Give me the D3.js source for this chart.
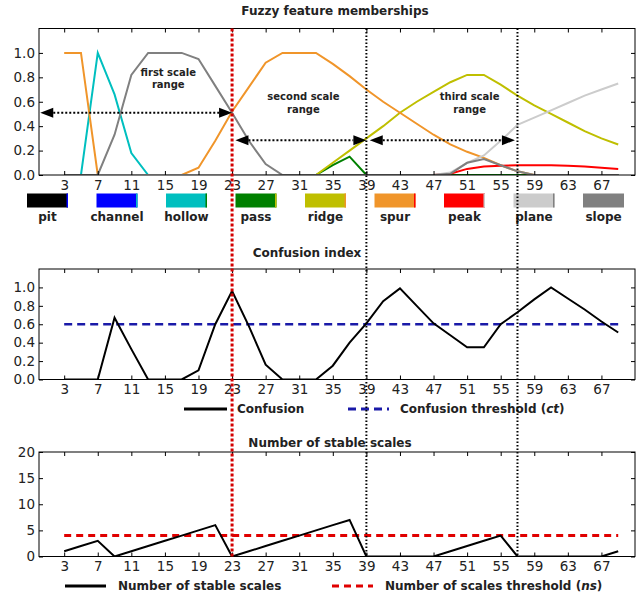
<!DOCTYPE html>
<html lang="en">
<head>
<meta charset="UTF-8">
<title>Fuzzy feature memberships</title>
<script src="https://d3js.org/d3.v7.min.js"></script>
<style>
  body { margin: 0; background: #fff; }
  svg { display: block; }
  text { font-family: "DejaVu Sans", sans-serif; fill: #222; }
</style>
</head>
<body>
<div id="chart"></div>
<script>
// scale index (odd window sizes)
const scales = [3,5,7,9,11,13,15,17,19,21,23,25,27,29,31,33,35,37,39,41,43,45,47,49,51,53,55,57,59,61,63,65,67,69];
const xTicks = [3,7,11,15,19,23,27,31,35,39,43,47,51,55,59,63,67];

// fuzzy memberships per feature
const pit     = [0,0,0,0,0,0,0,0,0,0,0,0,0,0,0,0,0,0,0,0,0,0,0,0,0,0,0,0,0,0,0,0,0,0];
const channel = [0,0,0,0,0,0,0,0,0,0,0,0,0,0,0,0,0,0,0,0,0,0,0,0,0,0,0,0,0,0,0,0,0,0];
const hollow  = [0,0,1.0,0.66,0.18,0,0,0,0,0,0,0,0,0,0,0,0,0,0,0,0,0,0,0,0,0,0,0,0,0,0,0,0,0];
const pass    = [0,0,0,0,0,0,0,0,0,0,0,0,0,0,0,0,0.08,0.15,0,0,0,0,0,0,0,0,0,0,0,0,0,0,0,0];
const ridge   = [0,0,0,0,0,0,0,0,0,0,0,0,0,0,0,0,0.10,0.20,0.30,0.40,0.51,0.60,0.68,0.76,0.82,0.82,0.74,0.65,0.57,0.50,0.43,0.36,0.30,0.25];
const spur    = [1,1,0,0,0,0,0,0,0.06,0.28,0.52,0.72,0.92,1.0,1.0,1.0,0.91,0.81,0.70,0.60,0.51,0.42,0.33,0.25,0.19,0.14,0.08,0.03,0,0,0,0,0,0];
const peak    = [0,0,0,0,0,0,0,0,0,0,0,0,0,0,0,0,0,0,0,0,0,0,0,0.01,0.05,0.07,0.075,0.08,0.08,0.08,0.075,0.07,0.06,0.05];
const plane   = [0,0,0,0,0,0,0,0,0,0,0,0,0,0,0,0,0,0,0,0,0,0,0,0.02,0.10,0.16,0.28,0.41,0.47,0.53,0.59,0.65,0.70,0.75];
const slope   = [0,0,0,0.33,0.82,1.0,1.0,1.0,0.95,0.73,0.51,0.28,0.09,0,0,0,0,0,0,0,0,0,0,0.01,0.10,0.13,0.08,0.03,0,0,0,0,0,0];

const featureNames  = ['pit','channel','hollow','pass','ridge','spur','peak','plane','slope'];
const featureColors = ['#000000','#0000ff','#00bfbf','#008000','#bfbf00','#f0952a','#ff0000','#cccccc','#808080'];
const featureValues = [pit, channel, hollow, pass, ridge, spur, peak, plane, slope];

// confusion index and stable scale counts
const confusion = [0,0,0,0.67,0.33,0,0,0,0.10,0.60,0.96,0.58,0.16,0,0,0,0.15,0.40,0.61,0.85,0.99,0.80,0.61,0.48,0.35,0.35,0.60,0.73,0.87,1.0,0.88,0.76,0.63,0.51];
const stable    = [1,2,3,0,1,2,3,4,5,6,0,1,2,3,4,5,6,7,0,0,0,0,0,1,2,3,4,0,0,0,0,0,0,1];
const ctThreshold = 0.6;
const nsThreshold = 4;

// chosen characteristic scales
const cutScales = [23, 39, 57];

// annotations on the membership panel
const rangeArrows = [
  {x1: 0.15, x2: 23,   y: 0.51},
  {x1: 23.4, x2: 39,   y: 0.285},
  {x1: 39.4, x2: 56.7, y: 0.285}
];
const rangeLabels = [
  {text: ['first scale', 'range'],  x: 15.4, y: 0.79},
  {text: ['second scale', 'range'], x: 31.5, y: 0.59},
  {text: ['third scale', 'range'],  x: 51.3, y: 0.59}
];

const width = 641, height = 595;
const svg = d3.select('#chart').append('svg').attr('width', width).attr('height', height);
const x = d3.scaleLinear().domain([0, 71]).range([39, 635]);

function makePanel(id, top, bottom, yMax) {
  const y = d3.scaleLinear().domain([0, yMax]).range([bottom, top]);
  const g = svg.append('g');
  g.append('clipPath').attr('id', 'clip-' + id)
    .append('rect').attr('x', x(0)).attr('y', top).attr('width', x(71) - x(0)).attr('height', bottom - top);
  const plot = g.append('g').attr('clip-path', 'url(#clip-' + id + ')');
  return {g, plot, y, top, bottom};
}

function drawAxes(p, yTicks, fmt) {
  const style = sel => {
    sel.select('.domain').remove();
    sel.attr('font-family', '"DejaVu Sans", sans-serif').attr('font-size', 13.5).attr('color', '#222');
    sel.selectAll('line').attr('stroke', '#000');
  };
  p.g.append('g').attr('transform', `translate(0,${p.bottom})`)
    .call(d3.axisBottom(x).tickValues(xTicks).tickSizeInner(-4).tickSizeOuter(0).tickPadding(5)).call(style);
  p.g.append('g').attr('transform', `translate(0,${p.top})`)
    .call(d3.axisTop(x).tickValues(xTicks).tickSizeInner(-4).tickSizeOuter(0).tickFormat('')).call(style);
  p.g.append('g').attr('transform', `translate(${x(0)},0)`)
    .call(d3.axisLeft(p.y).tickValues(yTicks).tickFormat(fmt).tickSizeInner(-4).tickSizeOuter(0).tickPadding(4)).call(style);
  p.g.append('g').attr('transform', `translate(${x(71)},0)`)
    .call(d3.axisRight(p.y).tickValues(yTicks).tickFormat('').tickSizeInner(-4).tickSizeOuter(0)).call(style);
  p.g.append('rect').attr('x', x(0)).attr('y', p.top).attr('width', x(71) - x(0)).attr('height', p.bottom - p.top)
    .attr('fill', 'none').attr('stroke', '#000').attr('stroke-width', 1);
}

function title(txt, cx, cy) {
  svg.append('text').attr('x', cx).attr('y', cy).attr('text-anchor', 'middle').attr('dy', '0.35em')
    .attr('font-size', 12).attr('font-weight', 'bold').text(txt);
}

// ---------- panel 1: memberships ----------
const p1 = makePanel('p1', 28.5, 175, 1.2);
const line1 = d3.line().x((d, i) => x(scales[i])).y(d => p1.y(d));
featureValues.forEach((vals, k) => {
  p1.plot.append('path').datum(vals).attr('d', line1)
    .attr('fill', 'none').attr('stroke', featureColors[k]).attr('stroke-width', 2);
});

rangeArrows.forEach(a => {
  const px1 = x(a.x1), px2 = x(a.x2), py = p1.y(a.y), hl = 13, hw = 5;
  p1.g.append('line').attr('x1', px1 + hl).attr('x2', px2 - hl).attr('y1', py).attr('y2', py)
    .attr('stroke', '#000').attr('stroke-width', 2).attr('stroke-dasharray', '2,2');
  p1.g.append('path').attr('d', `M${px1},${py}L${px1 + hl},${py - hw}L${px1 + hl},${py + hw}Z`).attr('fill', '#000');
  p1.g.append('path').attr('d', `M${px2},${py}L${px2 - hl},${py - hw}L${px2 - hl},${py + hw}Z`).attr('fill', '#000');
});
rangeLabels.forEach(l => {
  const t = p1.g.append('text').attr('text-anchor', 'middle').attr('font-size', 10).attr('font-weight', 'bold')
    .attr('fill', '#333').attr('y', p1.y(l.y) - 6.5 + 3.5);
  l.text.forEach((s, i) => t.append('tspan').attr('x', x(l.x)).attr('dy', i ? 12.6 : 0).text(s));
});
drawAxes(p1, [0, 0.2, 0.4, 0.6, 0.8, 1.0], d3.format('.1f'));
title('Fuzzy feature memberships', 335, 11);

// feature legend
const legend = svg.append('g');
featureNames.forEach((name, k) => {
  const lx = 27 + k * 69.5;
  legend.append('rect').attr('x', lx).attr('y', 193.5).attr('width', 41).attr('height', 14).attr('fill', featureColors[k]);
  if (k < featureNames.length - 1) {
    legend.append('rect').attr('x', lx + 39.5).attr('y', 193.5).attr('width', 1.5).attr('height', 14).attr('fill', featureColors[k + 1]);
  }
  legend.append('text').attr('x', lx + 20.5).attr('y', 220.5).attr('text-anchor', 'middle')
    .attr('font-size', 12).attr('font-weight', 'bold').text(name);
});

// ---------- panel 2: confusion index ----------
const p2 = makePanel('p2', 269, 379.5, 1.2);
p2.plot.append('path').datum(scales.map(() => ctThreshold))
  .attr('d', d3.line().x((d, i) => x(scales[i])).y(d => p2.y(d)))
  .attr('fill', 'none').attr('stroke', '#1a1aa8').attr('stroke-width', 2.5).attr('stroke-dasharray', '8,5');
p2.plot.append('path').datum(confusion)
  .attr('d', d3.line().x((d, i) => x(scales[i])).y(d => p2.y(d)))
  .attr('fill', 'none').attr('stroke', '#000').attr('stroke-width', 2);
drawAxes(p2, [0, 0.2, 0.4, 0.6, 0.8, 1.0], d3.format('.1f'));
title('Confusion index', 307, 253);

const leg2 = svg.append('g');
leg2.append('line').attr('x1', 184).attr('x2', 227).attr('y1', 409).attr('y2', 409).attr('stroke', '#000').attr('stroke-width', 3);
leg2.append('text').attr('x', 237).attr('y', 409).attr('dy', '0.35em').attr('font-size', 12).attr('font-weight', 'bold').text('Confusion');
leg2.append('line').attr('x1', 348).attr('x2', 389).attr('y1', 409).attr('y2', 409).attr('stroke', '#1a1aa8')
  .attr('stroke-width', 3).attr('stroke-dasharray', '8,5');
const t2 = leg2.append('text').attr('x', 400).attr('y', 409).attr('dy', '0.35em').attr('font-size', 12).attr('font-weight', 'bold');
t2.append('tspan').text('Confusion threshold (');
t2.append('tspan').attr('font-style', 'italic').text('ct');
t2.append('tspan').text(')');

// ---------- panel 3: stable scales ----------
const p3 = makePanel('p3', 452, 556.5, 20);
p3.plot.append('path').datum(scales.map(() => nsThreshold))
  .attr('d', d3.line().x((d, i) => x(scales[i])).y(d => p3.y(d)))
  .attr('fill', 'none').attr('stroke', '#e00000').attr('stroke-width', 3).attr('stroke-dasharray', '7,5');
p3.plot.append('path').datum(stable)
  .attr('d', d3.line().x((d, i) => x(scales[i])).y(d => p3.y(d)))
  .attr('fill', 'none').attr('stroke', '#000').attr('stroke-width', 2);
drawAxes(p3, [0, 5, 10, 15, 20], d3.format('d'));
title('Number of stable scales', 330, 442.5);

const leg3 = svg.append('g');
leg3.append('line').attr('x1', 65).attr('x2', 106).attr('y1', 586).attr('y2', 586).attr('stroke', '#000').attr('stroke-width', 3);
leg3.append('text').attr('x', 118).attr('y', 586).attr('dy', '0.35em').attr('font-size', 12).attr('font-weight', 'bold').text('Number of stable scales');
leg3.append('line').attr('x1', 332).attr('x2', 373).attr('y1', 586).attr('y2', 586).attr('stroke', '#e00000')
  .attr('stroke-width', 3).attr('stroke-dasharray', '7,5');
const t3 = leg3.append('text').attr('x', 385).attr('y', 586).attr('dy', '0.35em').attr('font-size', 12).attr('font-weight', 'bold');
t3.append('tspan').text('Number of scales threshold (');
t3.append('tspan').attr('font-style', 'italic').text('ns');
t3.append('tspan').text(')');

// ---------- cut lines through all panels ----------
svg.append('g').selectAll('line').data(cutScales).join('line')
  .attr('x1', d => x(d)).attr('x2', d => x(d)).attr('y1', 28.5).attr('y2', 556.5)
  .attr('stroke', (d, i) => i === 0 ? '#d40000' : '#000')
  .attr('stroke-width', (d, i) => i === 0 ? 3 : 2)
  .attr('stroke-dasharray', (d, i) => i === 0 ? '3,2' : '1.5,2');
</script>
</body>
</html>
